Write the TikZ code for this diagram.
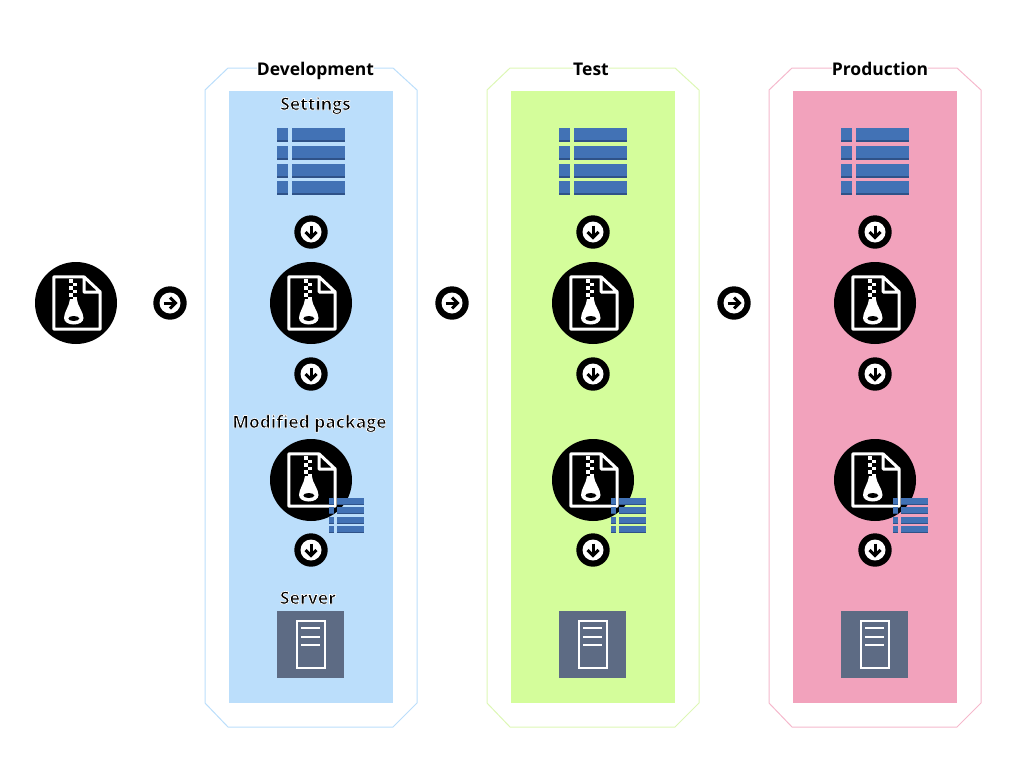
\documentclass[tikz,border=0pt]{standalone}
\usepackage{fontspec}
\setmainfont{Open Sans}
\definecolor{devfill}{HTML}{BBDEFB}
\definecolor{testfill}{HTML}{D4FD9B}
\definecolor{prodfill}{HTML}{F2A2BC}
\definecolor{testline}{HTML}{DDF7B5}
\definecolor{prodline}{HTML}{F5B8CC}
\definecolor{rowblue}{HTML}{4272B5}
\definecolor{rowdark}{HTML}{2F5288}
\definecolor{srvfill}{HTML}{5D6B84}
\newcommand{\halotext}[1]{\special{pdf:code q 1 1 1 RG 0.7 w 2 Tr}#1\special{pdf:code Q}}
\tikzset{
  zipfile/.pic={
    \fill[black] (0,0) circle (41);
    \draw[white,line width=3,line join=round] (8,-26.2) -- (-22.2,-26.2) -- (-22.2,26.2) -- (24.2,26.2) -- (24.2,-11) -- (8,-26.2) -- (8,-11) -- (24.2,-11);
    \foreach \ty in {-24,-17,-10} {
      \fill[white] (-7,\ty) rectangle (-3,\ty+3.5);
      \fill[white] (-3,\ty+3.5) rectangle (1,\ty+7);
    }
    \fill[white] (-6,-4) -- (0.8,-4) .. controls (1.5,3) and (7.5,9) .. (7.5,15) .. controls (7.5,19) and (3,21.5) .. (-2.2,21.5) .. controls (-7.5,21.5) and (-12,19) .. (-12,15) .. controls (-12,9) and (-6.5,3) .. (-6,-4) -- cycle;
    \fill[black] (-2.2,15.5) ellipse (5.5 and 2.5);
  },
  gotoicon/.pic={
    \fill[black] (0,0) circle (16.7);
    \fill[white] (0,0) circle (10.5);
    \draw[black,line width=3] (-6.5,0) -- (5,0);
    \draw[black,line width=3] (0,-5.5) -- (5.5,0) -- (0,5.5);
  },
  settingsicon/.pic={
    \foreach \ry in {0,17.9,35.8,53.3} {
      \fill[rowblue] (-34,\ry) rectangle (-23,\ry+14);
      \fill[rowblue] (-19,\ry) rectangle (34,\ry+14);
      \fill[rowdark] (-34,\ry+12) rectangle (-23,\ry+14);
      \fill[rowdark] (-19,\ry+12) rectangle (34,\ry+14);
    }
  },
  servericon/.pic={
    \fill[srvfill] (-33.5,0) rectangle (33.5,67);
    \draw[white,line width=1.5] (-13.5,10) rectangle (14.5,57);
    \foreach \ly in {17,26,34} {
      \draw[white,line width=1.5] (-9,\ly) -- (10,\ly);
    }
  }
}
\begin{document}
\begin{tikzpicture}[x=1pt,y=-1pt,
    heading/.style={font=\bfseries\fontsize{17.5}{21}\selectfont,inner sep=0pt,anchor=base,text=black},
    title/.style={heading,fill=white,inner xsep=0pt,inner ysep=2pt}]
  \useasboundingbox (0,0) rectangle (1024,768);
  % package on the far left
  \pic at (76,303) {zipfile};
  % the three stages
  \foreach \px/\colfill/\coledge/\stage/\titlex in {
      311/devfill/devfill/Development/315.5,
      593/testfill/testline/Test/591,
      875/prodfill/prodline/Production/880} {
    \fill[\colfill] (\px-82,91) rectangle (\px+82,703);
    \draw[\coledge,line width=1] (\px-83,68) -- (\px+82,68) -- (\px+106,90) -- (\px+106,703)
      -- (\px+82,727) -- (\px-83,727) -- (\px-106,703) -- (\px-106,90) -- cycle;
    \node[title] (title\stage) at (\titlex,75) {\stage};
    \pic at (\px,127.7) {settingsicon};
    \pic[rotate=-90] at (\px,232) {gotoicon};
    \pic at (\px,303) {zipfile};
    \pic[rotate=-90] at (\px,374) {gotoicon};
    \pic at (\px,480) {zipfile};
    \pic[scale=.525] at (\px+35.5,497.7) {settingsicon};
    \pic[rotate=-90] at (\px,550) {gotoicon};
    \pic at (\px-0.7,611) {servericon};
    \pic at (\px-141,303) {gotoicon};
  }
  % labels of the first stage
  \node[heading] (settings) at (315.5,110) {\halotext{Settings}};
  \node[heading] (modified) at (309.5,428) {\halotext{Modified package}};
  \node[heading] (server) at (308,604) {\halotext{Server}};
\end{tikzpicture}
\end{document}
